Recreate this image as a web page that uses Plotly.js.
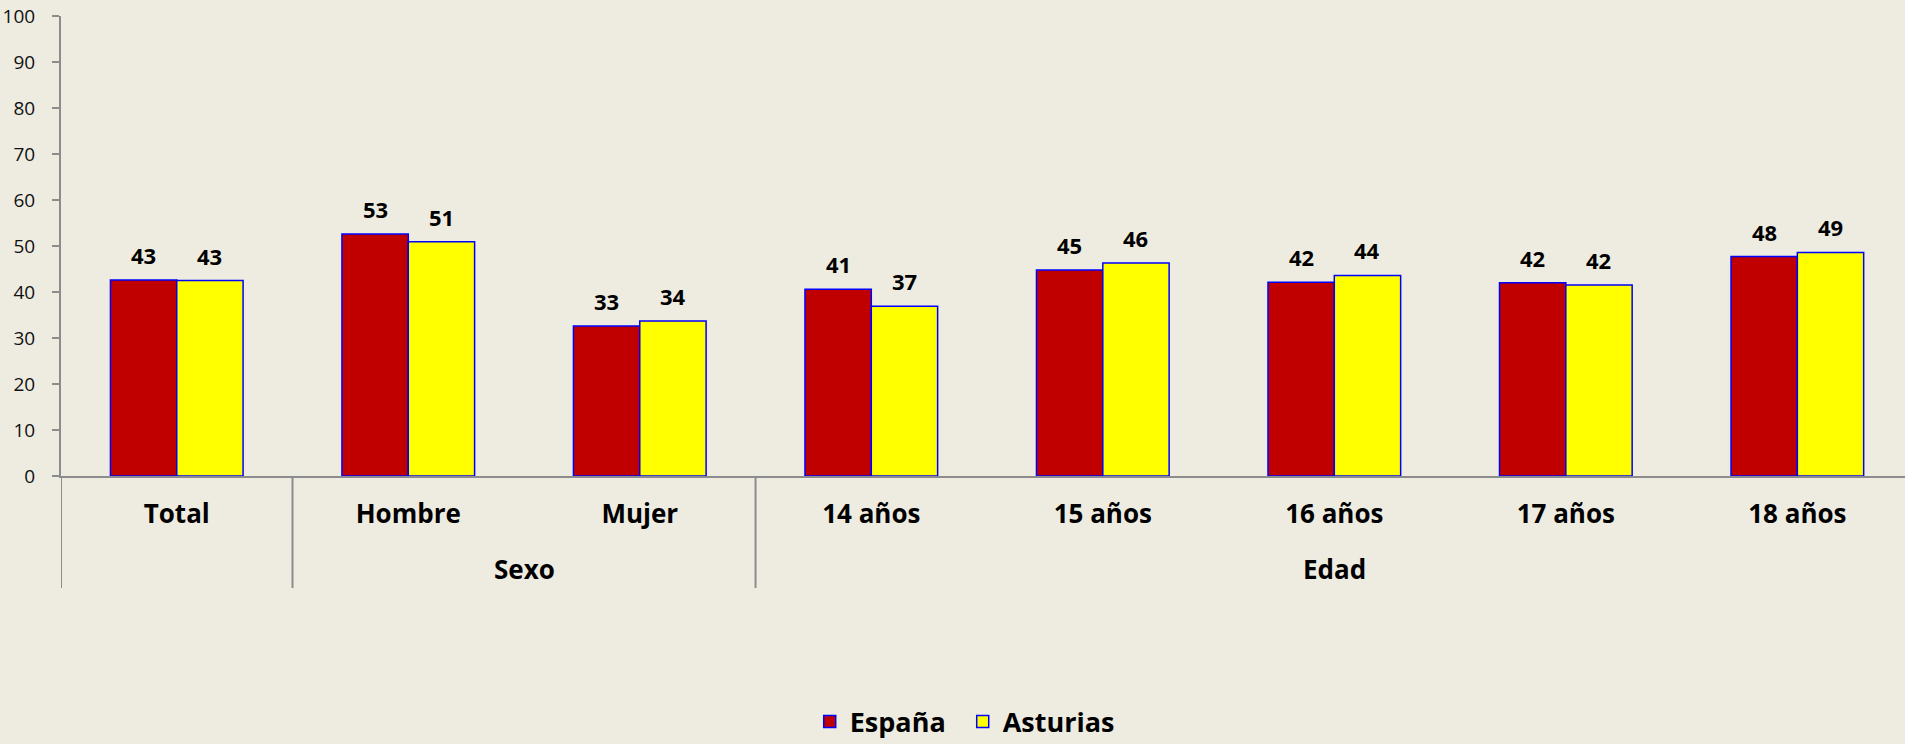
<!DOCTYPE html>
<html>
<head>
<meta charset="utf-8">
<script src="https://cdn.plot.ly/plotly-3.0.1.min.js"></script>
<style>
  html, body { margin: 0; padding: 0; background: #EEECE1; overflow: hidden; }
  #chart { width: 1905px; height: 744px; }
</style>
</head>
<body>
<div id="chart"></div>
<script>
// ---- Data ----
const categories = ["Total", "Hombre", "Mujer", "14 años", "15 años", "16 años", "17 años", "18 años"];
const groups = ["", "Sexo", "Sexo", "Edad", "Edad", "Edad", "Edad", "Edad"];
const espana = [42.6, 52.6, 32.6, 40.6, 44.8, 42.1, 42.0, 47.7];
const asturias = [42.5, 50.9, 33.7, 36.9, 46.3, 43.6, 41.5, 48.6];
const seriesNames = ["España", "Asturias"];
const yTicks = [0, 10, 20, 30, 40, 50, 60, 70, 80, 90, 100];

// ---- Styling ----
const FONT = "'Open Sans', 'Noto Sans', sans-serif";
const BG = "#EEECE1";
const AXIS = "#8C8C8C";
const colors = ["#C00000", "#FFFF00"];
const W = 1905, H = 744;
const margin = {l: 61, r: 0, t: 16, b: 268, autoexpand: false};
const xRange = [-0.5, 7.465];
const bargap = 0.427;

const plotW = W - margin.l - margin.r;
const plotH = H - margin.t - margin.b;
const plotBottom = H - margin.b;
const catPx = plotW / (xRange[1] - xRange[0]);
const barOffsetPx = catPx * (1 - bargap) / 4;

const xIdx = categories.map((c, i) => i);

const traces = [espana, asturias].map((vals, k) => ({
  type: "bar",
  name: seriesNames[k],
  x: categories,
  y: vals,
  marker: {color: colors[k], line: {color: "#0000FF", width: 1.5}},
  hoverinfo: "x+y+name"
}));

// Data labels
const annotations = [];
[espana, asturias].forEach((vals, k) => {
  vals.forEach((v, i) => {
    annotations.push({
      x: xIdx[i], y: v, xref: "x", yref: "y",
      xshift: (k === 0 ? -1 : 1) * barOffsetPx,
      yshift: 25,
      yanchor: "middle", xanchor: "center",
      text: String(Math.round(v)),
      showarrow: false,
      font: {family: FONT, size: 22, color: "#000000", weight: 700}
    });
  });
});

// Group labels & dividers derived from the groups array
const dividerBottom = -(588 - plotBottom) / plotH;
const groupLabelY = -(569 - plotBottom) / plotH;
const shapes = [];
let start = 0;
for (let i = 1; i <= groups.length; i++) {
  if (i === groups.length || groups[i] !== groups[start]) {
    // divider at the start of each group
    shapes.push({
      type: "line", xref: "x", yref: "paper",
      x0: start - 0.5, x1: start - 0.5, y0: 0, y1: dividerBottom,
      line: {color: AXIS, width: 2}
    });
    if (groups[start]) {
      annotations.push({
        x: (start + i - 1) / 2, y: groupLabelY, xref: "x", yref: "paper",
        yanchor: "middle", xanchor: "center",
        text: groups[start], showarrow: false,
        font: {family: FONT, size: 26, color: "#000000", weight: 700}
      });
    }
    start = i;
  }
}

const layout = {
  width: W, height: H,
  margin: margin,
  paper_bgcolor: BG,
  plot_bgcolor: BG,
  barmode: "group",
  bargap: bargap,
  bargroupgap: 0,
  showlegend: true,
  legend: {
    orientation: "h",
    x: 0.489, xanchor: "center", xref: "paper",
    y: -(722 - plotBottom) / plotH, yanchor: "middle",
    font: {family: FONT, size: 27, color: "#000000", weight: 700},
    bgcolor: "rgba(0,0,0,0)",
    entrywidth: 108, entrywidthmode: "pixels",
    traceorder: "normal"
  },
  xaxis: {
    type: "category",
    range: xRange,
    showline: true, linecolor: AXIS, linewidth: 2,
    ticks: "", showgrid: false, zeroline: false,
    tickfont: {family: FONT, size: 26, color: "#000000", weight: 700},
    ticklabelstandoff: 14,
    fixedrange: true
  },
  yaxis: {
    range: [0, 100],
    tickvals: yTicks,
    ticktext: yTicks.map(String),
    showline: true, linecolor: AXIS, linewidth: 2,
    ticks: "outside", ticklen: 7, tickwidth: 2, tickcolor: AXIS,
    showgrid: false, zeroline: false,
    tickfont: {family: FONT, size: 19, color: "#111111"},
    ticklabelstandoff: 13,
    fixedrange: true
  },
  shapes: shapes,
  annotations: annotations
};

Plotly.newPlot("chart", traces, layout, {displayModeBar: false, responsive: false});
</script>
</body>
</html>
